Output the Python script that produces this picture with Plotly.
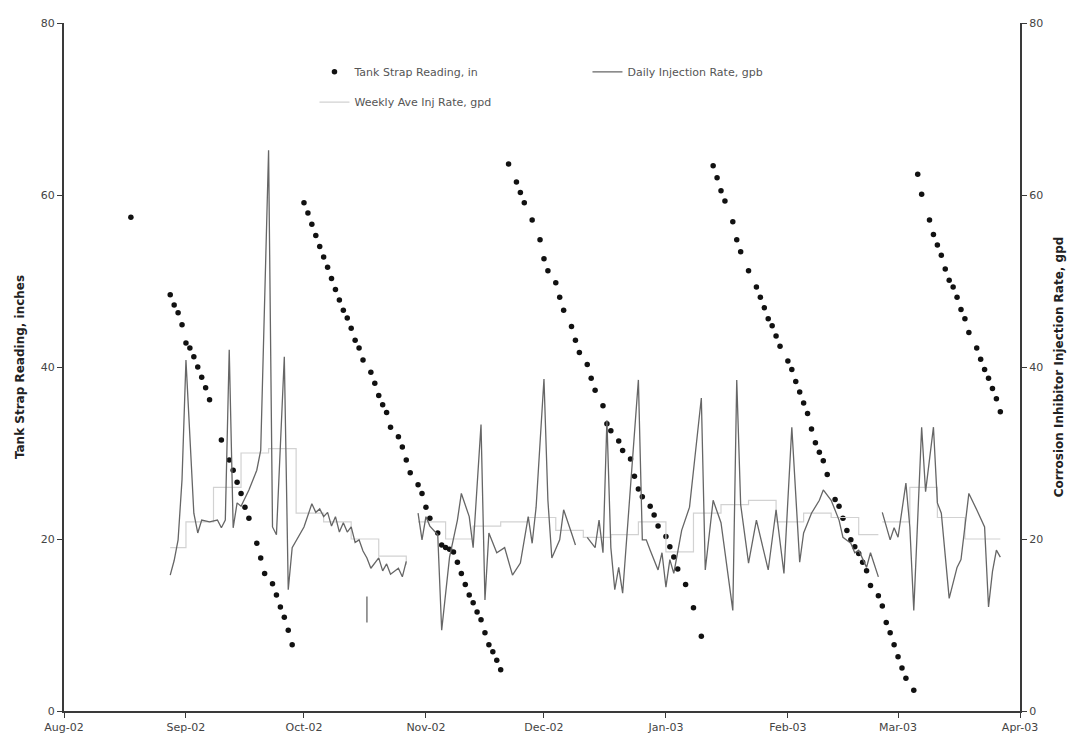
import pandas as pd
import plotly.graph_objects as go

BASE = pd.Timestamp("2002-08-01")

# ---- Tank strap reading (inches), day offsets from 2002-08-01 ----
tank_day = [17,
            27, 28, 29, 30, 31, 32, 33, 34, 35, 36, 37,
            40, 42, 43, 44, 45, 46, 47, 49, 50, 51, 53, 54, 55, 56, 57, 58,
            61, 62, 63, 64, 65, 66, 67, 68, 69, 70, 71, 72, 73, 74, 75, 76,
            78, 79, 80, 81, 82, 83, 85, 86, 87, 88, 90, 91, 92, 93, 95, 96, 97, 98, 99,
            100, 101, 102, 103, 104, 105, 106, 107, 108, 109, 110, 111,
            113, 115, 116, 117, 119, 121, 122, 123, 125, 126, 127, 129, 130, 131, 133, 134,
            135, 137, 138, 139, 141, 142, 144, 145, 146, 147, 149, 150, 151, 153, 154, 155,
            156, 158, 160, 162,
            165, 166, 167, 168, 170, 171, 172, 174, 176, 177, 178, 179, 180, 181, 182, 184,
            185, 186, 187, 188, 189, 190, 191, 192, 193, 194, 196, 197, 198, 199, 200, 201,
            202, 203, 204, 205, 207, 208, 209, 210, 211, 212, 213, 214, 216,
            217, 218, 220, 221, 222, 223, 224, 225, 226, 227, 228, 229, 230, 232, 233, 234,
            235, 236, 237, 238]
tank_val = [57.4,
            48.4, 47.2, 46.3, 44.9, 42.8, 42.2, 41.2, 40.0, 38.8, 37.6, 36.2,
            31.5, 29.2, 28.0, 26.6, 25.3, 23.7, 22.4, 19.5, 17.8, 16.0, 14.8, 13.5, 12.1, 10.9, 9.4, 7.7,
            59.1, 57.9, 56.6, 55.3, 54.0, 52.8, 51.6, 50.3, 49.0, 47.8, 46.6, 45.7, 44.5, 43.1, 42.2, 40.8,
            39.4, 38.1, 36.7, 35.6, 34.7, 33.0, 31.9, 30.7, 29.2, 27.7, 26.3, 25.3, 23.7, 22.4, 20.7, 19.3, 19.0, 18.8, 18.5,
            17.3, 16.0, 14.7, 13.5, 12.6, 11.5, 10.6, 9.1, 7.7, 6.9, 5.9, 4.8,
            63.6, 61.5, 60.3, 59.1, 57.1, 54.8, 52.6, 51.2, 49.8, 48.1, 46.6, 44.7, 43.1, 41.7, 40.3, 38.7,
            37.3, 35.5, 33.4, 32.6, 31.4, 30.3, 29.3, 27.3, 25.8, 24.9, 23.8, 22.8, 21.5, 20.3, 19.1, 17.9,
            16.5, 14.7, 12.0, 8.7,
            63.4, 62.0, 60.5, 59.3, 56.9, 54.8, 53.4, 51.2, 49.3, 48.1, 46.9, 45.6, 44.8, 43.6, 42.4, 40.7,
            39.7, 38.3, 37.1, 35.8, 34.6, 32.8, 31.2, 30.1, 29.1, 27.5, 24.6, 23.8, 22.4, 21.0, 19.9, 19.1,
            18.3, 17.3, 16.3, 14.6, 13.4, 12.2, 10.3, 9.1, 7.7, 6.3, 5.0, 3.8, 2.4,
            62.4, 60.1, 57.1, 55.4, 54.2, 53.0, 51.4, 50.1, 49.3, 48.1, 46.7, 45.6, 44.0, 42.2, 40.9, 39.7,
            38.7, 37.5, 36.3, 34.8]

# ---- Daily injection rate (gpd); None marks a break in the line ----
daily_day = [27, 28, 29, 30, 31, 33, 34, 35, 37, 39, 40, 41, 42, 43, 44, 45, 47, 49, 50, 52,
             53, 54, 56, 57, 58, 60, 61, 63, 64, 65, 66, 67, 68, 69, 70, 71, 72, 73, 74, 75,
             76, 77, 78, 80, 81, 82, 83, 85, 86, 87,
             88,
             77, 77,
             78,
             90, 91, 92, 93, 95, 96, 98, 100, 101, 103, 104, 106, 107, 108, 110, 112, 114, 116,
             118, 119, 120, 122, 123, 124, 126, 127, 129, 130,
             131,
             133, 135, 136, 137, 138, 139, 140, 141, 142, 146, 147, 148, 149, 151, 152, 153, 154,
             155, 157, 159, 162, 163, 165, 167, 170, 171, 172, 174, 176, 178, 179, 181, 183, 185,
             187, 188, 190, 192, 193, 195, 197, 198, 200, 201, 202, 204, 205, 207,
             207.5,
             208, 210, 211, 212, 214, 215, 216, 218, 219, 221, 222, 223, 225, 227, 228, 230, 232,
             234, 235, 236, 237, 238]
daily_val = [15.8, 17.5, 19.9, 26.9, 40.8, 23.0, 20.7, 22.2, 22.0, 22.2, 21.3, 22.2, 42.0, 21.3, 24.2, 23.8, 25.7, 28.0, 30.3, 65.2,
             21.4, 20.5, 41.2, 14.1, 19.0, 20.5, 21.4, 24.1, 23.1, 23.5, 22.6, 23.1, 21.5, 22.6, 20.8, 21.9, 20.8, 21.4, 19.6, 19.9,
             18.6, 17.8, 16.6, 17.8, 16.3, 17.1, 15.9, 16.6, 15.6, 17.4,
             None,
             13.3, 10.3,
             None,
             23.0, 19.9, 22.6, 21.5, 20.5, 9.4, 17.9, 22.2, 25.3, 22.6, 19.0, 33.3, 12.9, 20.7, 18.4, 19.0, 15.8, 17.2,
             22.6, 19.5, 23.7, 38.6, 24.5, 17.8, 19.9, 23.4, 20.7, 19.3,
             None,
             20.2, 19.0, 22.2, 18.4, 33.8, 19.0, 14.1, 16.7, 13.7, 38.5, 19.9, 19.9, 18.7, 16.4, 18.4, 14.4, 17.6,
             16.0, 21.0, 23.7, 36.4, 16.4, 24.5, 21.9, 11.7, 38.5, 24.0, 17.2, 22.2, 18.4, 16.4, 23.4, 16.0, 33.0,
             17.3, 20.7, 23.0, 24.5, 25.7, 24.5, 22.2, 20.2, 19.5, 18.4, 18.7, 16.7, 18.4, 15.6,
             None,
             23.1, 19.9, 21.3, 20.2, 26.5, 21.4, 11.7, 33.0, 25.5, 33.0, 24.2, 23.0, 13.1, 16.7, 17.6, 25.3, 23.4,
             21.4, 12.1, 16.2, 18.7, 17.9]

# ---- Weekly average injection rate (gpd) ----
weekly_day = [27, 31, 38, 45, 52, 59, 66, 73, 80, 87, 89, 90, 97, 104, 111, 118, 125, 132, 139,
              146, 153, 160, 167, 174, 181, 188, 195, 202, 207, 207.5, 208, 215, 222, 229, 236, 238]
weekly_val = [19.0, 22.0, 26.0, 30.0, 30.5, 23.0, 22.0, 20.0, 18.0, 17.0, None, 22.0, 20.0, 21.5, 22.0, 22.5,
              21.0, 20.2, 20.5, 22.0, 18.5, 23.0, 24.0, 24.5, 22.0, 23.0, 22.5, 20.5, 20.5, None, 22.0, 26.0,
              22.5, 20.0, 20.0, 20.0]

month_ticks = ["2002-08-01", "2002-09-01", "2002-10-01", "2002-11-01", "2002-12-01",
               "2003-01-01", "2003-02-01", "2003-03-01", "2003-04-01"]
month_labels = ["Aug-02", "Sep-02", "Oct-02", "Nov-02", "Dec-02", "Jan-03", "Feb-03", "Mar-03", "Apr-03"]


def to_dates(days):
    return [BASE + pd.Timedelta(days=d) for d in days]


FONT = "DejaVu Sans"
fig = go.Figure()

fig.add_trace(go.Scatter(
    x=to_dates(weekly_day), y=weekly_val, name="Weekly Ave Inj Rate, gpd",
    mode="lines", line=dict(color="#d2d2d2", width=1.2, shape="hv"),
    yaxis="y2", legend="legend2", connectgaps=False))

fig.add_trace(go.Scatter(
    x=to_dates(daily_day), y=daily_val, name="Daily Injection Rate, gpb",
    mode="lines", line=dict(color="#666666", width=1.3),
    yaxis="y2", legend="legend", connectgaps=False, legendrank=2))

fig.add_trace(go.Scatter(
    x=to_dates(tank_day), y=tank_val, name="Tank Strap Reading, in",
    mode="markers", marker=dict(color="#111111", size=5.5),
    yaxis="y", legend="legend", legendrank=1))

axis_line = dict(showline=True, linecolor="#3a3a3a", linewidth=2, ticks="outside",
                 ticklen=5, tickcolor="#3a3a3a", tickwidth=1, showgrid=False, zeroline=False,
                 tickfont=dict(family=FONT, size=11, color="#444444"))

fig.update_layout(
    width=1088, height=749,
    margin=dict(l=64, r=68, t=23, b=38),
    paper_bgcolor="white", plot_bgcolor="white",
    font=dict(family=FONT, size=11, color="#444444"),
    xaxis=dict(type="date", range=["2002-08-01", "2003-04-01"],
               tickvals=month_ticks, ticktext=month_labels, **axis_line),
    yaxis=dict(range=[0, 80], tickvals=[0, 20, 40, 60, 80],
               title=dict(text="Tank Strap Reading, inches", standoff=14,
                          font=dict(family=FONT, size=12, color="#222222", weight="bold")),
               **axis_line),
    yaxis2=dict(range=[0, 80], tickvals=[0, 20, 40, 60, 80], overlaying="y", side="right",
                title=dict(text="Corrosion Inhibitor Injection Rate, gpd", standoff=12,
                           font=dict(family=FONT, size=12, color="#222222", weight="bold")),
                **axis_line),
    legend=dict(orientation="h", x=0.262, y=0.929, xanchor="left", yanchor="middle",
                entrywidth=228, entrywidthmode="pixels", bgcolor="rgba(0,0,0,0)",
                font=dict(family=FONT, size=11, color="#555555"), traceorder="normal"),
    legend2=dict(orientation="h", x=0.262, y=0.885, xanchor="left", yanchor="middle",
                 bgcolor="rgba(0,0,0,0)",
                 font=dict(family=FONT, size=11, color="#555555")),
    showlegend=True,
)

fig.write_html("out.html")
